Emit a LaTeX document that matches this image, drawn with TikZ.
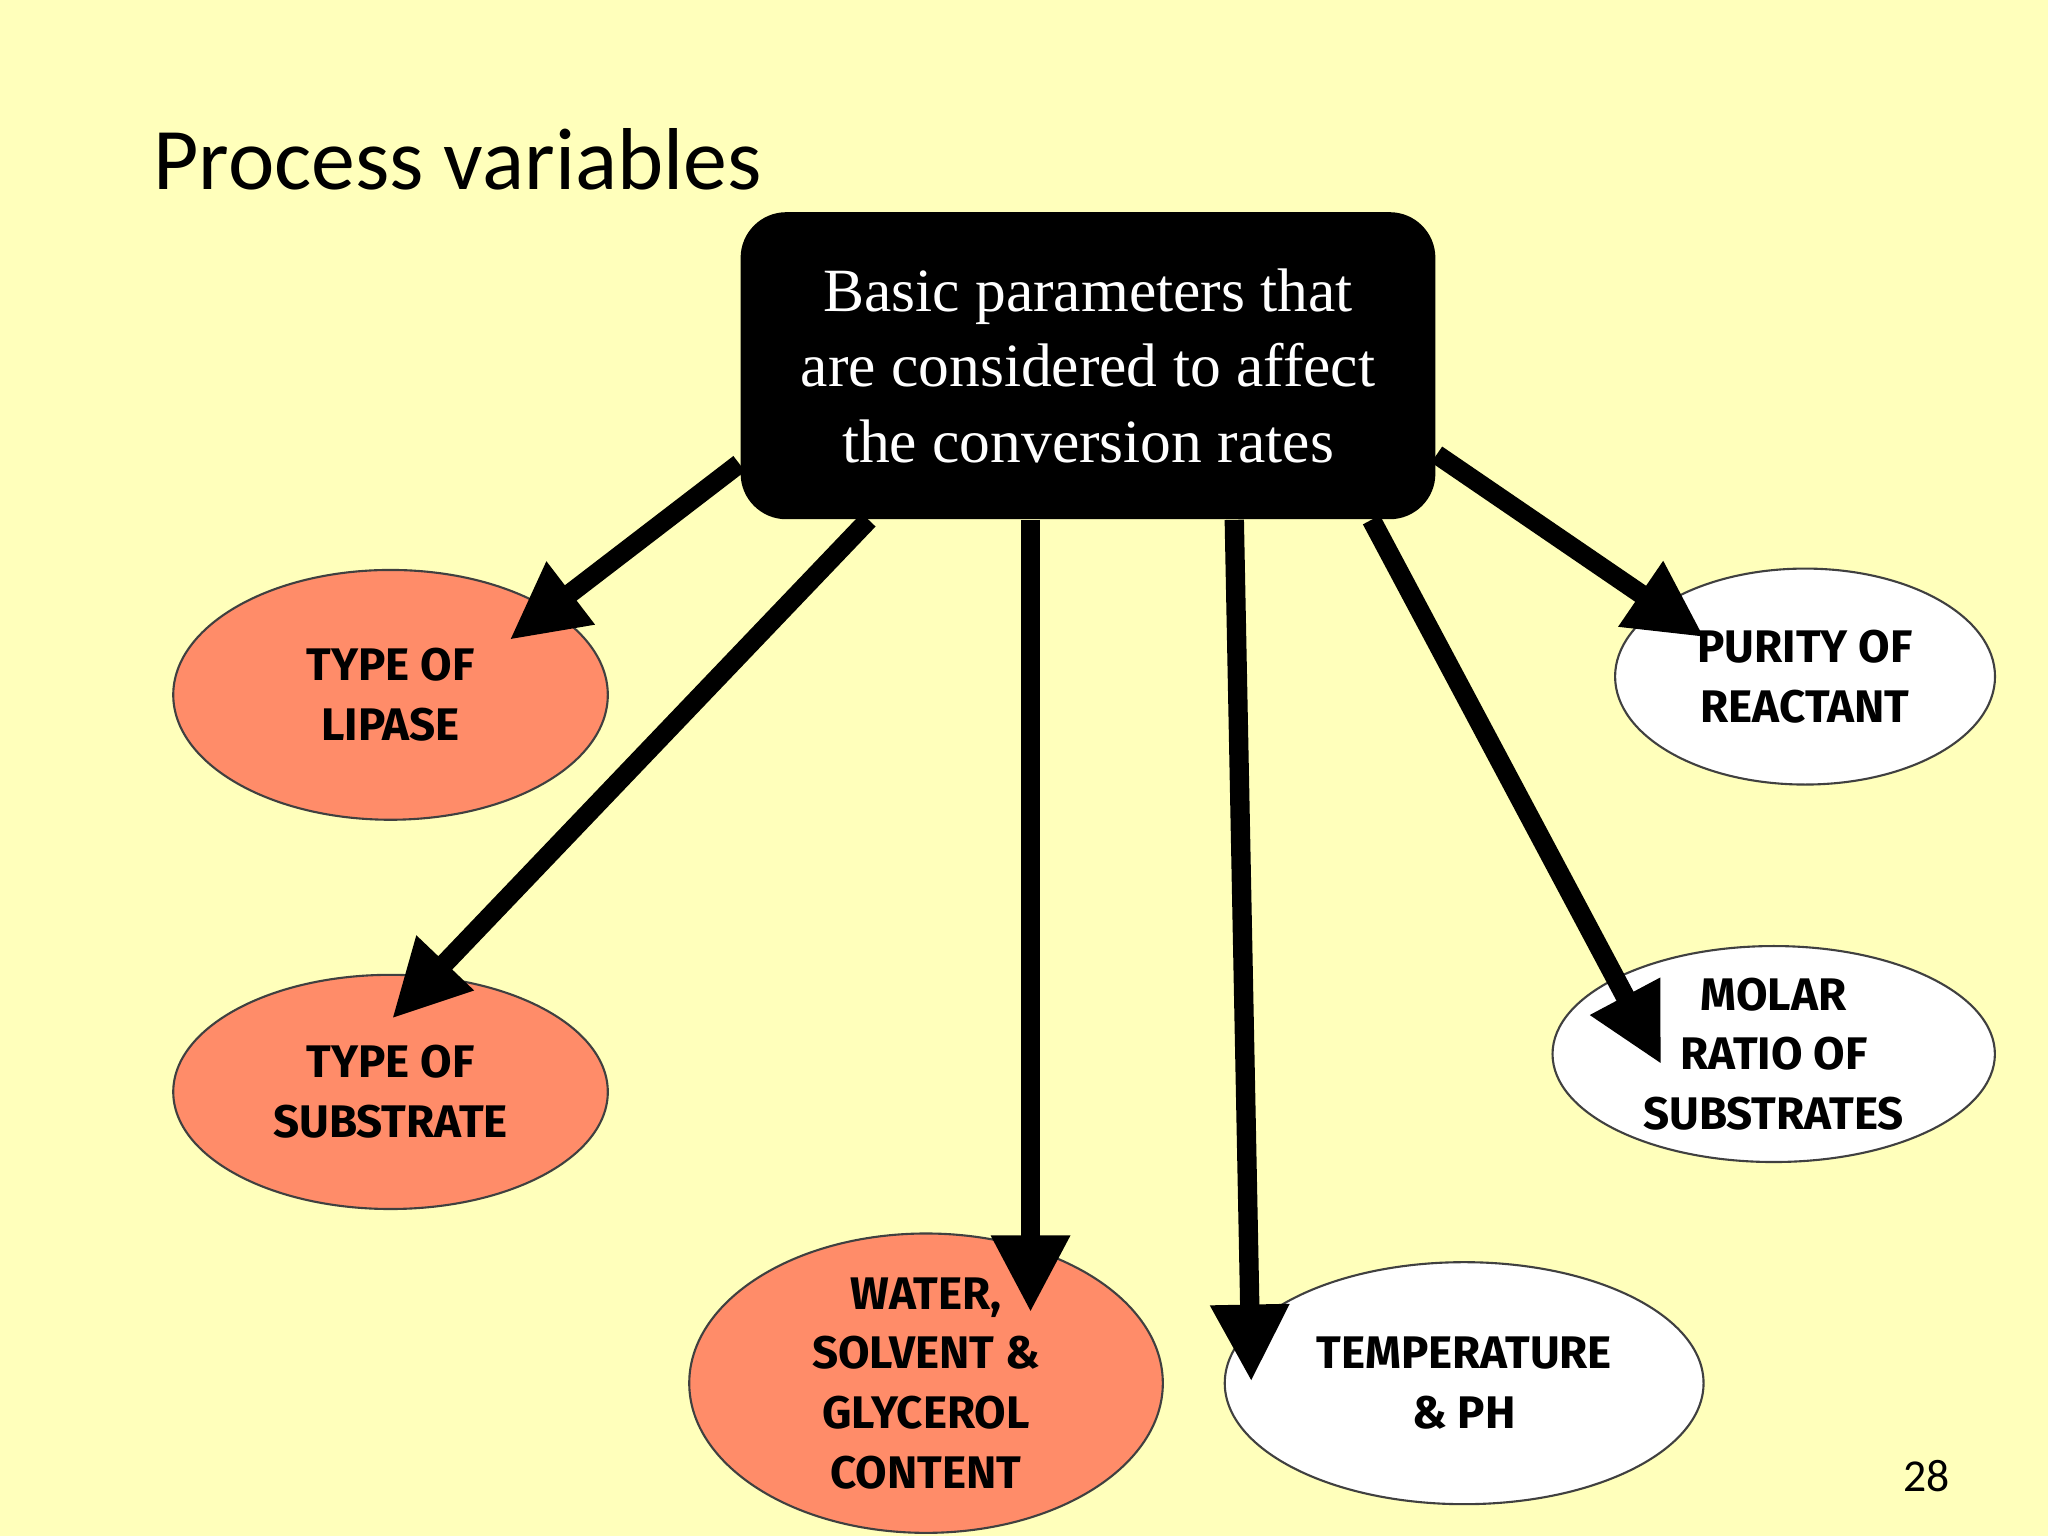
\documentclass[tikz,border=0pt]{standalone}
\usepackage{fontspec}
\setmainfont{Liberation Serif}
\newfontfamily\ttl{Carlito}
\newfontfamily\lbl{Fira Sans}
\usetikzlibrary{shapes.geometric,arrows.meta}
\definecolor{bg}{RGB}{255,255,187}
\definecolor{salmon}{RGB}{255,140,105}
\begin{document}
\begin{tikzpicture}[x=0.013061cm,y=-0.013061cm,
  ell/.style={draw=black!75,line width=0.6pt,ellipse,inner sep=0pt,font=\lbl\bfseries\fontsize{13}{17}\selectfont,align=center},
  arr/.style={line width=5.5pt,-{Triangle[length=22pt,width=21pt]}}]
\fill[bg] (0,0) rectangle (1568,1176);
\useasboundingbox (0,0) rectangle (1568,1176);
\node[anchor=base west,font=\ttl\fontsize{25}{30}\selectfont] (title) at (108,145) {Process variables};
\node[fill=black,rounded corners=13pt,minimum width=534*0.3702pt,minimum height=236*0.3702pt,text=white,align=center,font=\fontsize{17.5}{21.5}\selectfont] (box) at (833,280) {Basic parameters that\\are considered to affect\\the conversion rates};
\node[ell,fill=salmon,minimum width=334*0.3702pt,minimum height=192*0.3702pt] (lip) at (299,532) {TYPE OF\\LIPASE};
\node[ell,fill=salmon,minimum width=334*0.3702pt,minimum height=180*0.3702pt] (sub) at (299,836) {TYPE OF\\SUBSTRATE};
\node[ell,fill=salmon,minimum width=364*0.3702pt,minimum height=186*0.3702pt] (wat) at (709,1059) {WATER,\\SOLVENT \&\\GLYCEROL\\CONTENT};
\node[ell,fill=white,minimum width=368*0.3702pt,minimum height=186*0.3702pt] (tem) at (1121,1059) {TEMPERATURE\\\& PH};
\node[ell,fill=white,minimum width=292*0.3702pt,minimum height=166*0.3702pt] (pur) at (1382,518) {PURITY OF\\REACTANT};
\node[ell,fill=white,minimum width=340*0.3702pt,minimum height=166*0.3702pt] (mol) at (1358,807) {MOLAR\\RATIO OF\\SUBSTRATES};
\node[font=\ttl\fontsize{13}{15}\selectfont] (num) at (1475,1130) {28};
\coordinate (s1) at (566,355); \coordinate (e1) at (390,490);
\coordinate (s2) at (665,398); \coordinate (e2) at (300,780);
\coordinate (s3) at (789,398); \coordinate (e3) at (789,1005);
\coordinate (s4) at (945,398); \coordinate (e4) at (958,1058);
\coordinate (s5) at (1050,398); \coordinate (e5) at (1272,815);
\coordinate (s6) at (1100,348); \coordinate (e6) at (1305,488);
\foreach \i in {1,...,6} \draw[arr] (s\i) -- (e\i);
\end{tikzpicture}
\end{document}
